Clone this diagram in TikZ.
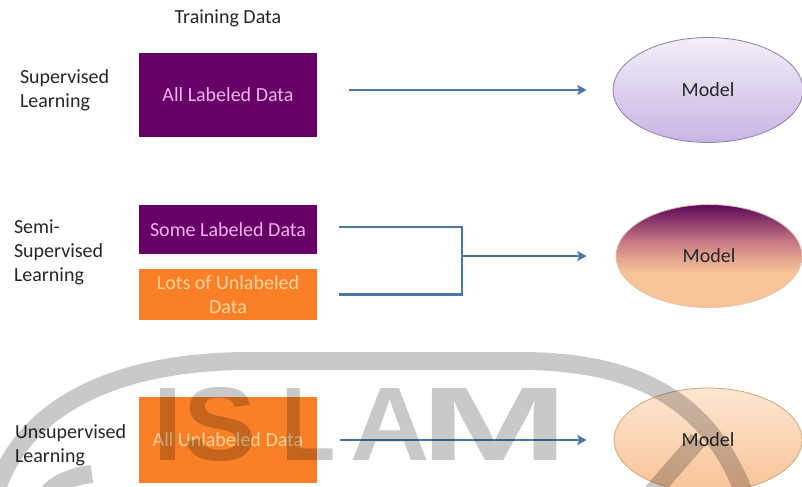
\documentclass[tikz,border=0pt]{standalone}
\usepackage{fontspec}
\setmainfont{Carlito}
\newfontfamily\markfont{Liberation Sans}
\usetikzlibrary{positioning,shapes.geometric,arrows.meta}

\definecolor{plum}{HTML}{660066}
\definecolor{tangerine}{HTML}{F98026}
\definecolor{pinktext}{HTML}{F2B2EE}
\definecolor{peachtext}{HTML}{FCD39B}
\definecolor{linkblue}{HTML}{4A76A8}
\definecolor{inkgray}{HTML}{262626}
\definecolor{lilactop}{HTML}{F2EEF8}
\definecolor{lilacbot}{HTML}{C9B5E4}
\definecolor{lilacedge}{HTML}{8E80A6}
\definecolor{peachtop}{HTML}{FDE6D2}
\definecolor{peachbot}{HTML}{F7C397}
\definecolor{peachedge}{HTML}{CDA77E}
\definecolor{semitop}{HTML}{5C0758}
\definecolor{semimid}{HTML}{C27283}
\definecolor{semiedge}{HTML}{E0C2B4}
\colorlet{semilow}{semimid!45!peachbot}

\pgfdeclareverticalshading{semiball}{100bp}{color(0bp)=(peachbot); color(25bp)=(peachbot);
  color(42bp)=(peachbot); color(50bp)=(semilow); color(58bp)=(semimid); color(75bp)=(semitop);
  color(100bp)=(semitop)}

\begin{document}
\begin{tikzpicture}[>={Stealth[length=7pt, width=7.5pt, inset=1.5pt]}, node distance=2.8cm,
  txt/.style={font=\fontsize{15}{18}\selectfont},
  box/.style={txt, minimum width=133.5pt, align=center, inner sep=2pt},
  plumbox/.style={box, fill=plum, text=pinktext},
  orangebox/.style={box, fill=tangerine, text=peachtext},
  kind/.style={txt, text width=90pt, align=left, inner sep=0pt, text=inkgray},
  model/.style={txt, ellipse, inner sep=0pt, line width=0.6pt, text=inkgray},
  link/.style={draw=linkblue, line width=2.1pt},
  flow/.style={link, ->},
  wmletter/.style={font=\markfont\bfseries\fontsize{78.5}{78.5}\selectfont, inner sep=0pt, anchor=base}]

\useasboundingbox (0,0) rectangle (601.5pt,-364.5pt);
\clip (0,0) rectangle (601.5pt,-364.5pt);

\node[plumbox, minimum height=63pt] (alllab) at (171pt,-71.25pt) {All Labeled Data};
\node[txt, text=inkgray, above of=alllab, node distance=57.75pt] (train) {Training Data};
\node[kind, left of=alllab, node distance=111pt, yshift=3.75pt] (sup) {Supervised\\Learning};
\node[model, right of=alllab, node distance=360pt, yshift=3.75pt, minimum width=142.5pt, minimum height=78.75pt,
  draw=lilacedge, top color=lilactop, bottom color=lilacbot] (model1) {Model};

\node[plumbox, minimum height=36.75pt, below of=alllab, node distance=100.9pt] (somelab) {Some Labeled Data};
\node[orangebox, minimum height=38.25pt, below of=somelab, node distance=48.75pt] (lotsunl) {Lots of Unlabeled\\Data};
\node[kind, left of=somelab, node distance=115.5pt, yshift=-17.3pt] (semi) {Semi-\\Supervised\\Learning};
\node[model, right of=somelab, node distance=360.75pt, yshift=-19.9pt, minimum width=139.5pt, minimum height=77.25pt,
  draw=semiedge, shading=semiball] (model2) {Model};
\coordinate[left of=model2, node distance=185.25pt] (join);

\node[orangebox, minimum height=64.5pt, below of=lotsunl, node distance=109.1pt] (allunl) {All Unlabeled Data};
\node[kind, left of=allunl, node distance=114.75pt, yshift=-3.75pt] (unsup) {Unsupervised\\Learning};
\node[model, right of=allunl, node distance=360pt, minimum width=141pt, minimum height=78pt,
  draw=peachedge, top color=peachtop, bottom color=peachbot] (model3) {Model};

\draw[flow, shorten <=24pt, shorten >=19.5pt] (alllab.east |- model1.west) -- (model1.west);
\draw[link] ([xshift=16.5pt, yshift=1.9pt]somelab.east) -| (join);
\draw[link] ([xshift=16.5pt]lotsunl.east) -| (join);
\draw[flow, shorten >=21.75pt] (join) -- (model2.west);
\draw[flow, shorten <=17.25pt, shorten >=20.25pt] (allunl.east) -- (model3.west);

% faint seal printed over the lower row
\begin{scope}[x=0.75pt, y=-0.75pt, transparency group, opacity=0.21]
  \draw[line width=13.5pt] (-5,495) .. controls (20,410) and (110,361) .. (250,361) -- (520,361)
    .. controls (650,361) and (712,410) .. (745,495);
  \draw[line width=13.5pt] (650,495) -- (698,440);
  \draw[line width=13.5pt] (45,497) .. controls (55,482) and (75,476) .. (92,474);
  \foreach \ch/\xx/\sc in {I/168/1, S/220/1.05, L/309/0.85, A/390/1.05, M/495/1.7}
    \node[wmletter] (wm\ch) at (\xx,460) {\scalebox{\sc}[1]{\ch}};
\end{scope}
\end{tikzpicture}
\end{document}
